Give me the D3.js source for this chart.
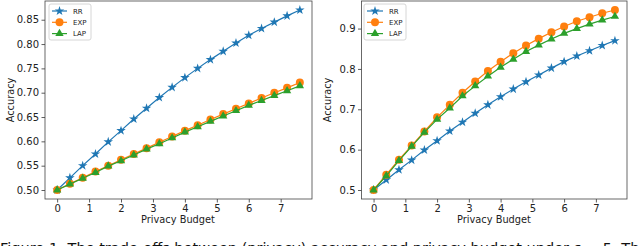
<!DOCTYPE html>
<html>
<head>
<meta charset="utf-8">
<script src="https://cdn.jsdelivr.net/npm/d3@7"></script>
<style>
  body { margin: 0; background: #fff; }
  svg { display: block; }
  text { font-family: "DejaVu Sans", sans-serif; }
</style>
</head>
<body>
<svg width="640" height="246"></svg>
<script>
let svg = d3.select("svg");

// privacy budget values (x)
let budgets = [0, 0.4, 0.8, 1.2, 1.6, 2.0, 2.4, 2.8, 3.2, 3.6, 4.0, 4.4, 4.8, 5.2, 5.6, 6.0, 6.4, 6.8, 7.2, 7.6];

// left panel
let left_rr  = [0.500, 0.525, 0.550, 0.574, 0.599, 0.622, 0.646, 0.668, 0.690, 0.711, 0.731, 0.750, 0.768, 0.785, 0.802, 0.818, 0.832, 0.845, 0.858, 0.870];
let left_exp = [0.500, 0.513, 0.525, 0.538, 0.550, 0.562, 0.574, 0.586, 0.598, 0.610, 0.622, 0.633, 0.645, 0.656, 0.667, 0.678, 0.689, 0.700, 0.710, 0.721];
let left_lap = [0.500, 0.512, 0.524, 0.536, 0.549, 0.560, 0.572, 0.584, 0.595, 0.607, 0.619, 0.630, 0.641, 0.652, 0.663, 0.674, 0.684, 0.694, 0.704, 0.714];

// right panel
let right_rr  = [0.500, 0.525, 0.550, 0.574, 0.599, 0.622, 0.646, 0.668, 0.690, 0.711, 0.731, 0.750, 0.768, 0.785, 0.802, 0.818, 0.832, 0.845, 0.858, 0.870];
let right_exp = [0.500, 0.538, 0.575, 0.610, 0.645, 0.680, 0.711, 0.741, 0.769, 0.795, 0.818, 0.839, 0.858, 0.875, 0.891, 0.905, 0.918, 0.928, 0.938, 0.946];
let right_lap = [0.500, 0.535, 0.573, 0.608, 0.643, 0.675, 0.703, 0.733, 0.758, 0.782, 0.804, 0.824, 0.843, 0.859, 0.874, 0.888, 0.900, 0.911, 0.921, 0.930];

let series_names = ["RR", "EXP", "LAP"];
let x_ticks = [0, 1, 2, 3, 4, 5, 6, 7];
let left_y_ticks = [0.50, 0.55, 0.60, 0.65, 0.70, 0.75, 0.80, 0.85];
let right_y_ticks = [0.5, 0.6, 0.7, 0.8, 0.9];

let colors = {"RR": "#1f77b4", "EXP": "#ff7f0e", "LAP": "#2ca02c"};
let symbols = {"RR": d3.symbol().type(d3.symbolStar).size(28),
               "EXP": d3.symbol().type(d3.symbolCircle).size(50),
               "LAP": d3.symbol().type(d3.symbolTriangle).size(30)};

function padded(vals) {
  let lo = d3.min(vals), hi = d3.max(vals), m = (hi - lo) * 0.05;
  return [lo - m, hi + m];
}

function drawPanel(box, rr, exp, lap, yTicks, yFmt, legendX, lineW) {
  let g = svg.append("g");
  let x = d3.scaleLinear().domain(padded(budgets)).range([box.left, box.right]);
  let y = d3.scaleLinear().domain(padded(rr.concat(exp, lap))).range([box.bottom, box.top]);

  let xAxis = g.append("g")
    .attr("transform", "translate(0," + box.bottom + ")")
    .call(d3.axisBottom(x).tickValues(x_ticks).tickSize(3.5).tickPadding(2.5).tickFormat(d3.format("d")));
  let yAxis = g.append("g")
    .attr("transform", "translate(" + box.left + ",0)")
    .call(d3.axisLeft(y).tickValues(yTicks).tickSize(3.5).tickPadding(2.5).tickFormat(d3.format(yFmt)));
  [xAxis, yAxis].forEach(function(a) {
    a.select(".domain").remove();
    a.selectAll("line").attr("stroke", "#333").attr("stroke-width", 0.8);
    a.selectAll("text").attr("font-size", 10).attr("fill", "#222")
      .attr("font-family", "DejaVu Sans, sans-serif");
  });

  g.append("rect")
    .attr("x", box.left).attr("y", box.top)
    .attr("width", box.right - box.left).attr("height", box.bottom - box.top)
    .attr("fill", "none").attr("stroke", "#444").attr("stroke-width", 0.8);

  g.append("text")
    .attr("x", box.labelX).attr("y", 223)
    .attr("text-anchor", "middle").attr("font-size", 9.8).attr("fill", "#222")
    .text("Privacy Budget");
  g.append("text")
    .attr("transform", "translate(" + (box.left - 31) + ",100) rotate(-90)")
    .attr("text-anchor", "middle").attr("font-size", 9.8).attr("fill", "#222")
    .text("Accuracy");

  let data = {"RR": rr, "EXP": exp, "LAP": lap};
  let line = d3.line().x(function(d) { return x(d[0]); }).y(function(d) { return y(d[1]); });

  series_names.forEach(function(name) {
    let pts = budgets.map(function(b, i) { return [b, data[name][i]]; });
    g.append("path")
      .datum(pts)
      .attr("d", line)
      .attr("fill", "none")
      .attr("stroke", colors[name])
      .attr("stroke-width", 1.2);
    g.append("g").selectAll("path")
      .data(pts)
      .enter().append("path")
      .attr("transform", function(d) { return "translate(" + x(d[0]) + "," + y(d[1]) + ")"; })
      .attr("d", symbols[name])
      .attr("fill", colors[name]);
  });

  // legend
  let lg = g.append("g").attr("transform", "translate(" + legendX + ",4)");
  lg.append("rect")
    .attr("width", 42).attr("height", 36).attr("rx", 2)
    .attr("fill", "#fff").attr("fill-opacity", 0.8)
    .attr("stroke", "#ccc").attr("stroke-width", 0.8);
  series_names.forEach(function(name, i) {
    let ly = 7 + i * 11.3;
    lg.append("line")
      .attr("x1", 3).attr("x2", lineW).attr("y1", ly).attr("y2", ly)
      .attr("stroke", colors[name]).attr("stroke-width", 1.2);
    lg.append("path")
      .attr("transform", "translate(" + (3 + lineW) / 2 + "," + ly + ")")
      .attr("d", symbols[name])
      .attr("fill", colors[name]);
    lg.append("text")
      .attr("x", lineW + 6).attr("y", ly + 2.5)
      .attr("font-size", 7).attr("fill", "#222")
      .text(name);
  });
}

drawPanel({left: 45, right: 312, top: 1, bottom: 199, labelX: 178}, left_rr, left_exp, left_lap, left_y_ticks, ".2f", 49, 18);
drawPanel({left: 361.5, right: 627, top: 1, bottom: 199, labelX: 494}, right_rr, right_exp, right_lap, right_y_ticks, ".1f", 364, 19);

// caption line, cut off at the bottom edge as in the source figure
svg.append("text")
  .attr("x", 0).attr("y", 253)
  .attr("font-family", "Liberation Serif, serif")
  .attr("font-size", 14.5).attr("fill", "#111")
  .text("Figure 1: The trade-offs between (privacy) accuracy and privacy budget under ε = 5. The left figure and the right");
</script>
</body>
</html>
